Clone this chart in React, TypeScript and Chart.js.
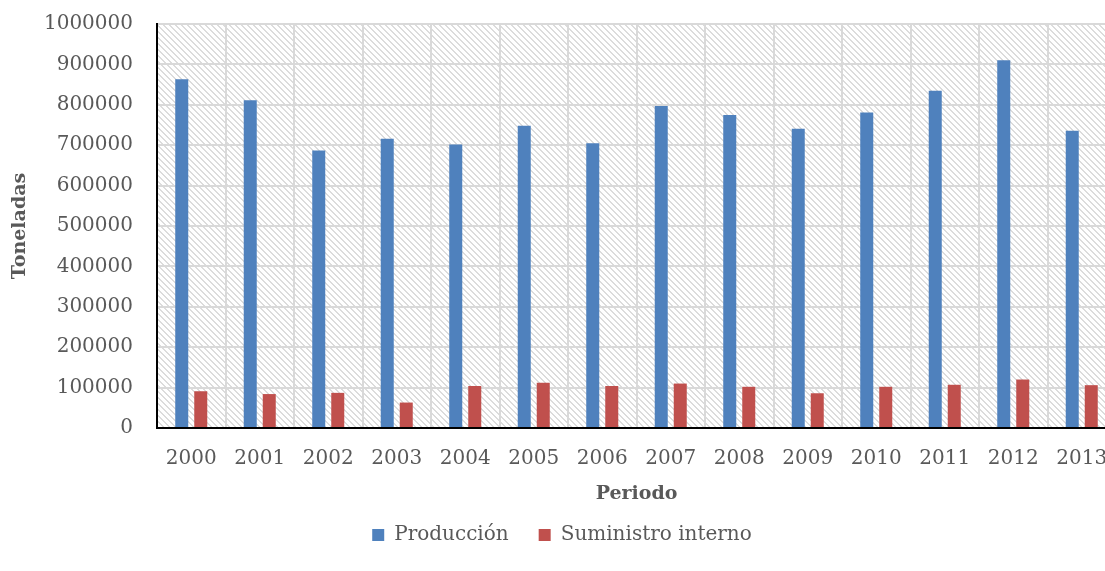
import React, { useEffect, useRef } from "react";
import { Chart, registerables } from "chart.js";

Chart.register(...registerables);

const years = ["2000", "2001", "2002", "2003", "2004", "2005", "2006", "2007", "2008", "2009", "2010", "2011", "2012", "2013"];
const produccion = [863000, 811000, 687000, 716000, 702000, 748000, 705000, 797000, 775000, 741000, 781000, 835000, 910000, 736000];
const suministro = [91000, 84000, 87000, 63000, 104000, 112000, 104000, 110000, 102000, 86000, 102000, 107000, 120000, 106000];
const seriesNames = ["Producción", "Suministro interno"];
const yTitle = "Toneladas";
const xTitle = "Periodo";

const FONT = "'DejaVu Serif', serif";
const TEXT = "#595959";

function makePattern(): CanvasPattern | string {
  const c = document.createElement("canvas");
  c.width = 6;
  c.height = 6;
  const g = c.getContext("2d");
  if (!g) return "#ffffff";
  g.fillStyle = "#ffffff";
  g.fillRect(0, 0, 6, 6);
  g.fillStyle = "#dcdcdc";
  for (let y = 0; y < 6; y++) {
    g.fillRect(y, y, 1, 1);
    g.fillRect((y + 1) % 6, y, 1, 1);
  }
  const p = g.createPattern(c, "repeat");
  return p || "#ffffff";
}

const hatchPlugin = {
  id: "hatch",
  beforeDraw(chart: any) {
    const { ctx, chartArea } = chart;
    if (!chartArea) return;
    ctx.save();
    ctx.fillStyle = makePattern();
    ctx.fillRect(chartArea.left, chartArea.top, chartArea.right - chartArea.left, chartArea.bottom - chartArea.top);
    ctx.restore();
  },
};

export default function App() {
  const ref = useRef<HTMLCanvasElement | null>(null);
  useEffect(() => {
    if (!ref.current) return;
    const chart = new Chart(ref.current, {
      type: "bar",
      data: {
        labels: years,
        datasets: [
          {
            label: seriesNames[0],
            data: produccion,
            backgroundColor: "#4F81BD",
            categoryPercentage: 0.555,
            barPercentage: 0.684,
          },
          {
            label: seriesNames[1],
            data: suministro,
            backgroundColor: "#C0504D",
            categoryPercentage: 0.555,
            barPercentage: 0.684,
          },
        ],
      },
      options: {
        responsive: false,
        animation: false,
        maintainAspectRatio: false,
        layout: { padding: { top: 16, right: 2, left: 0, bottom: 0 } },
        plugins: {
          tooltip: { enabled: false },
          legend: {
            position: "bottom",
            labels: {
              boxWidth: 12,
              boxHeight: 12,
              padding: 30,
              color: TEXT,
              font: { family: FONT, size: 20 },
            },
          },
        },
        scales: {
          x: {
            grid: { color: "#d9d9d9", lineWidth: 2, drawTicks: true, tickLength: 19, tickColor: "rgba(0,0,0,0)", offset: true },
            border: { color: "#000000", width: 2 },
            ticks: { color: TEXT, font: { family: FONT, size: 20 }, padding: 0, maxRotation: 0, autoSkip: false },
            title: { display: true, text: xTitle, color: TEXT, font: { family: FONT, size: 19, weight: "bold" }, padding: { top: 4, bottom: -10 } },
            afterFit: (s: any) => {
              s.height = 67;
            },
          },
          y: {
            min: 0,
            max: 1000000,
            grid: { color: "#d9d9d9", lineWidth: 2, drawTicks: true, tickLength: 24, tickColor: "rgba(0,0,0,0)" },
            border: { color: "#000000", width: 2 },
            ticks: { stepSize: 100000, color: TEXT, font: { family: FONT, size: 20 }, padding: 0, callback: (v: any) => String(v) },
            title: { display: true, text: yTitle, color: TEXT, font: { family: FONT, size: 19, weight: "bold" }, padding: { top: 1, bottom: 0 } },
            afterFit: (s: any) => {
              s.width = 149;
            },
          },
        },
      },
      plugins: [hatchPlugin],
    });
    return () => chart.destroy();
  }, []);
  return (
    <div style={{ position: "fixed", left: 8, top: 8, width: 1110, height: 547 }}>
      <canvas ref={ref} width={1110} height={547} style={{ display: "block" }} />
    </div>
  );
}
